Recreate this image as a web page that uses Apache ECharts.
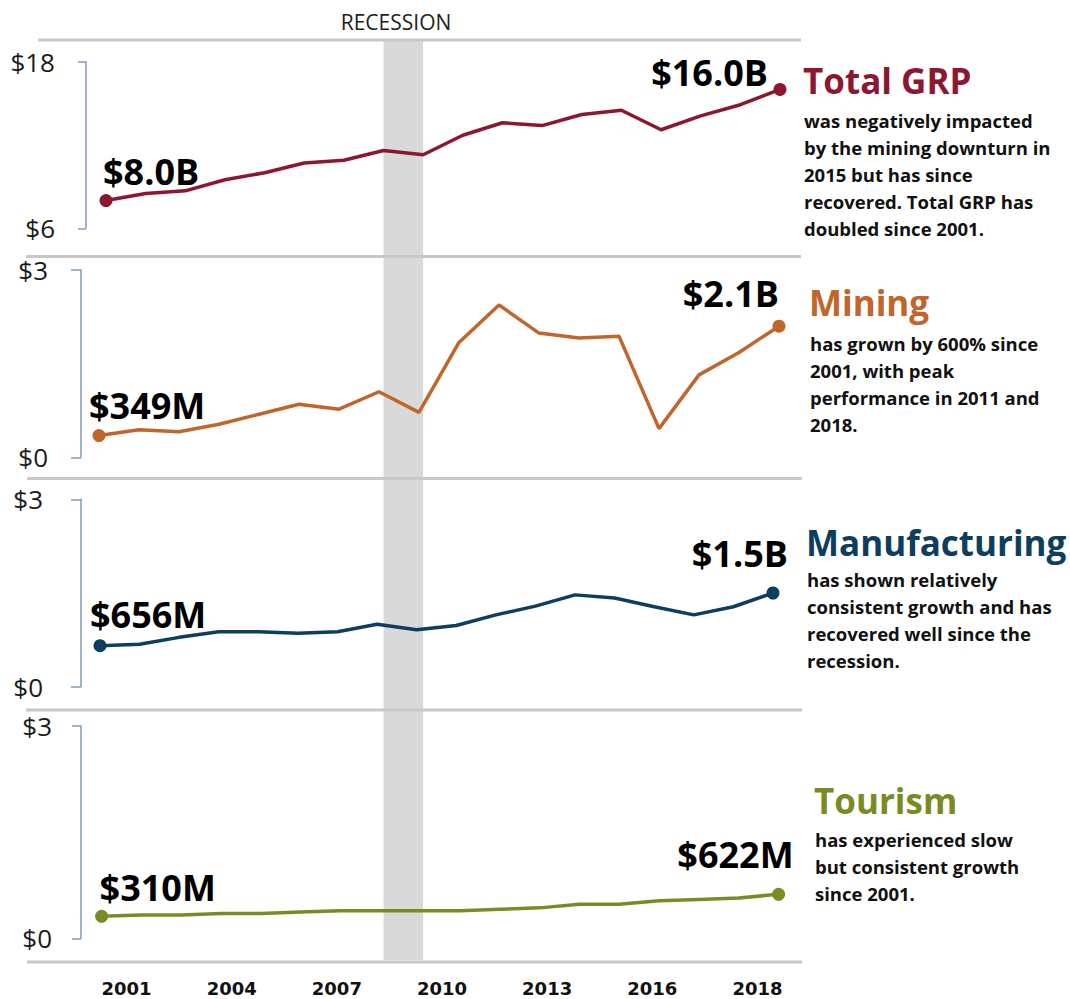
<!DOCTYPE html>
<html>
<head>
<meta charset="utf-8">
<title>GRP by industry</title>
<script src="https://cdn.jsdelivr.net/npm/echarts@6.0.0/dist/echarts.min.js"></script>
<style>
  html, body { margin: 0; padding: 0; background: #fff; }
  #chart { width: 1070px; height: 999px; }
</style>
</head>
<body>
<div id="chart"></div>
<script>
// values in $ billions
const years = ['2001', '2002', '2003', '2004', '2005', '2006', '2007', '2008', '2009',
  '2010', '2011', '2012', '2013', '2014', '2015', '2016', '2017', '2018']
const grpValues = [8.0, 8.5, 8.7, 9.5, 10.0, 10.7, 10.9, 11.6, 11.3, 12.7, 13.6, 13.4, 14.2, 14.5, 13.1, 14.1, 14.9, 16.0]
const miningValues = [0.349, 0.44, 0.41, 0.53, 0.69, 0.85, 0.77, 1.05, 0.72, 1.84, 2.44, 1.99, 1.91, 1.94, 0.46, 1.32, 1.68, 2.1]
const manufacturingValues = [0.656, 0.68, 0.79, 0.88, 0.88, 0.855, 0.88, 1.0, 0.91, 0.98, 1.15, 1.29, 1.47, 1.42, 1.28, 1.15, 1.28, 1.5]
const tourismValues = [0.31, 0.33, 0.33, 0.35, 0.35, 0.37, 0.39, 0.39, 0.39, 0.39, 0.41, 0.43, 0.48, 0.48, 0.53, 0.55, 0.57, 0.622]

const grpTicks = [6, 18]
const sectorTicks = [0, 3]
const yearTickLabels = ['2001', '2004', '2007', '2010', '2013', '2016', '2018']
const recessionYears = ['2008', '2009']

const panelNames = ['Total GRP', 'Mining', 'Manufacturing', 'Tourism']
const panelNotes = [
  'was negatively impacted\nby the mining downturn in\n2015 but has since\nrecovered. Total GRP has\ndoubled since 2001.',
  'has grown by 600% since\n2001, with peak\nperformance in 2011 and\n2018.',
  'has shown relatively\nconsistent growth and has\nrecovered well since the\nrecession.',
  'has experienced slow\nbut consistent growth\nsince 2001.'
]
const colors = ['#8c1731', '#c0652b', '#0d3e5e', '#7a8b23']

// layout of the four panels (pixels)
const panels = [
  { values: grpValues, ticks: grpTicks, left: 106, top: 61.7, width: 674, height: 166.6, offset: 20, tick: 8, margin: 31,
    first: [-3, -29], last: [-12, -17], titleX: 803, titleY: 80, noteY: 106.5 },
  { values: miningValues, ticks: sectorTicks, left: 99, top: 270, width: 680, height: 187.3, offset: 18, tick: 10, margin: 33,
    first: [-10, -30], last: [0, -33], titleX: 809, titleY: 302.5, noteY: 329.5 },
  { values: manufacturingValues, ticks: sectorTicks, left: 100, top: 499.3, width: 673, height: 187.4, offset: 19, tick: 10, margin: 38,
    first: [-10, -31], last: [15, -40], titleX: 806, titleY: 542.5, noteY: 565.5 },
  { values: tourismValues, ticks: sectorTicks, left: 101.6, top: 726, width: 677, height: 212.3, offset: 20.6, tick: 9, margin: 29,
    first: [-2, -28.5], last: [15, -40], titleX: 814, titleY: 800, noteY: 825.5 }
]

function money(v) {
  if (v >= 1) return '$' + v.toFixed(1) + 'B'
  return '$' + Math.round(v * 1000) + 'M'
}

const valueLabel = {
  show: true,
  position: 'inside',
  verticalAlign: 'middle',
  fontFamily: 'Open Sans',
  fontWeight: 'bold',
  fontSize: 36,
  color: '#000'
}

const grid = []
const xAxis = []
const yAxis = []
const series = []
const graphic = []

panels.forEach((p, i) => {
  grid.push({ left: p.left, top: p.top, width: p.width, height: p.height })
  xAxis.push({ type: 'category', gridIndex: i, data: years, boundaryGap: false, show: false })
  yAxis.push({
    type: 'value',
    gridIndex: i,
    min: p.ticks[0],
    max: p.ticks[1],
    offset: p.offset,
    splitLine: { show: false },
    axisLine: { show: true, lineStyle: { color: '#819cb7', width: 1.5 } },
    axisTick: { show: true, length: p.tick, customValues: p.ticks, lineStyle: { color: '#819cb7', width: 1.5 } },
    axisLabel: {
      customValues: p.ticks,
      formatter: v => '$' + v,
      margin: p.margin,
      fontFamily: 'Open Sans',
      fontSize: 26,
      color: '#1a1a1a'
    }
  })

  const last = p.values.length - 1
  series.push({
    type: 'line',
    xAxisIndex: i,
    yAxisIndex: i,
    z: 3,
    symbol: 'circle',
    symbolSize: 0,
    showAllSymbol: true,
    lineStyle: { color: colors[i], width: 3.5 },
    itemStyle: { color: colors[i] },
    data: p.values.map((v, k) => {
      if (k === 0) {
        return { value: v, symbolSize: 13, label: Object.assign({}, valueLabel, { formatter: money(v), align: 'left', offset: p.first }) }
      }
      if (k === last) {
        return { value: v, symbolSize: 13, label: Object.assign({}, valueLabel, { formatter: money(v), align: 'right', offset: p.last }) }
      }
      return v
    })
  })

  // industry name + note on the right
  graphic.push({
    type: 'text',
    x: p.titleX,
    y: p.titleY,
    style: {
      text: panelNames[i],
      fill: colors[i],
      font: 'bold 35px "Open Sans"',
      verticalAlign: 'middle'
    }
  })
  graphic.push({
    type: 'text',
    x: p.titleX + 1,
    y: p.noteY,
    style: {
      text: panelNotes[i],
      fill: '#111',
      font: 'bold 18.5px "Open Sans"',
      lineHeight: 27,
      verticalAlign: 'top'
    }
  })
})

// full height grid for the recession band
grid.push({ left: 106, top: 41, width: 674, height: 919 })
xAxis.push({ type: 'category', gridIndex: 4, data: years, boundaryGap: false, show: false })
yAxis.push({ type: 'value', gridIndex: 4, min: 0, max: 1, show: false })
series.push({
  type: 'line',
  xAxisIndex: 4,
  yAxisIndex: 4,
  z: 1,
  data: [],
  markArea: {
    silent: true,
    itemStyle: { color: '#d9d9d9' },
    data: [[{ xAxis: recessionYears[0] }, { xAxis: recessionYears[1] }]]
  }
})

// year labels along the bottom
grid.push({ left: 74, top: 900, width: 736, height: 62 })
xAxis.push({
  type: 'category',
  gridIndex: 5,
  data: yearTickLabels,
  boundaryGap: true,
  axisLine: { show: false },
  axisTick: { show: false },
  axisLabel: { interval: 0, margin: 17, fontFamily: 'DejaVu Sans', fontWeight: 'bold', fontSize: 18, color: '#111' }
})
yAxis.push({ type: 'value', gridIndex: 5, show: false })

// grey separators between panels
const separators = [[38, 40, 801], [26, 256.5, 801], [27, 478.5, 802], [26, 710, 802], [27, 962, 802]]
separators.forEach(s => {
  graphic.push({
    type: 'line',
    z: 5,
    shape: { x1: s[0], y1: s[1], x2: s[2], y2: s[1] },
    style: { stroke: '#c8c8c8', lineWidth: 3 }
  })
})

graphic.push({
  type: 'text',
  x: 396,
  y: 21.5,
  style: {
    text: 'RECESSION',
    fill: '#222',
    font: '21px "Open Sans"',
    align: 'center',
    verticalAlign: 'middle'
  }
})

const chart = echarts.init(document.getElementById('chart'), null, { renderer: 'svg' })
chart.setOption({
  animation: false,
  backgroundColor: '#fff',
  grid,
  xAxis,
  yAxis,
  series,
  graphic
})
</script>
</body>
</html>
